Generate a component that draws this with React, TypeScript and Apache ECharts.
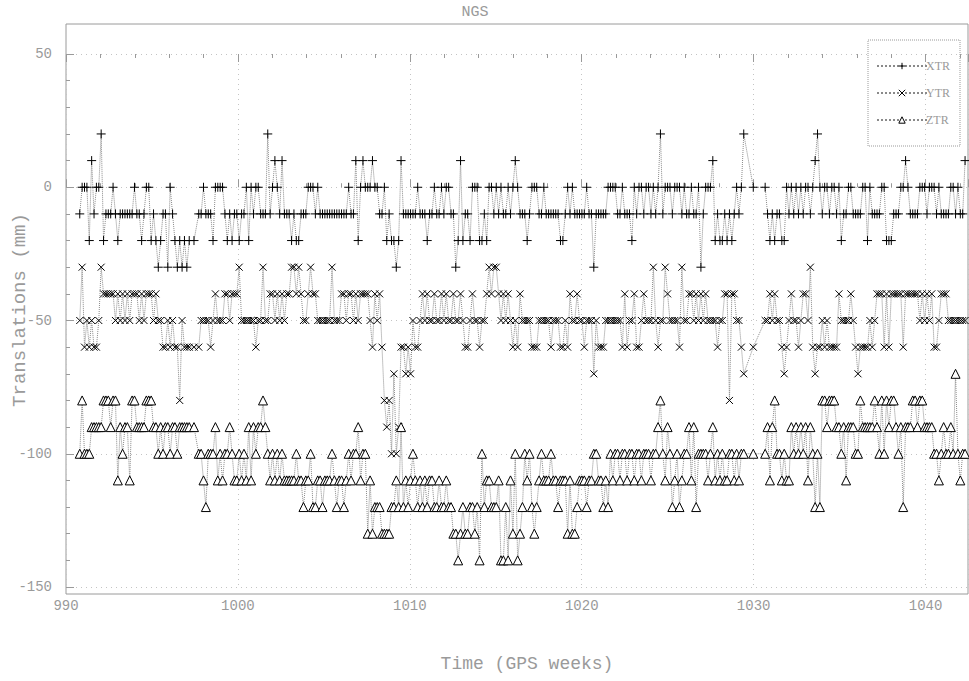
import React, { useEffect, useRef } from "react";
import * as echarts from "echarts";

// Sampling epochs (GPS weeks): first and last solution, evenly spaced
const firstEpoch = 990.8;
const lastEpoch = 1042.3;

// X translation (mm), one row per GPS week (null = no solution)
const xtr: (number | null)[] = [
  -10, 0,
  0, 0, -20, 10, -10, 0, 0,
  20, -20, -10, -10, -10, 0, -10,
  -20, -10, -10, -10, -10, -10, -10,
  0, -10, -10, -20, -10, 0, 0,
  -20, -10, -20, -30, -20, -10, -10,
  -30, 0, -10, -20, -30, -20, -30,
  -20, -30, -20, null, -20, null, -10,
  -10, 0, -10, -10, -10, -20, 0,
  0, 0, 0, -10, -20, -10, -20,
  -10, -10, -20, -10, -10, 0, -20,
  0, -10, 0, 0, -10, -10, -10,
  20, -10, 0, 10, 0, -10, 10,
  -10, -10, -10, -20, -10, -20, -20,
  -10, -10, -10, 0, 0, 0, -10,
  0, -10, -10, -10, -10, -10, -10,
  -10, -10, -10, -10, -10, -10, 0,
  -10, -10, 10, -20, 0, 10, 0,
  0, 0, 10, 0, 0, -10, -10,
  0, -20, -10, -20, -20, -30, -20,
  10, -10, -10, -10, -10, -10, -10,
  0, -10, -10, -10, -20, -10, -10,
  0, -10, -10, 0, -10, 0, 0,
  -10, -10, -30, -20, 10, -20, -10,
  -10, -20, 0, 0, 0, -20, -20,
  -10, -20, 0, 0, -10, 0, -10,
  0, -10, -10, 0, -10, 0, 10,
  0, -10, -10, -10, -20, -10, 0,
  0, 0, -10, -10, 0, -10, -10,
  -10, -10, -10, -10, -20, -20, -10,
  0, -10, 0, -10, -10, -10, -10,
  -10, 0, -10, -10, -30, -10, -10,
  -10, -10, -10, 0, 0, 0, 0,
  -10, -10, 0, -10, -10, -10, -20,
  0, -10, 0, 0, -10, 0, 0,
  -10, 0, -10, 0, 20, -10, 0,
  0, 0, -10, 0, 0, 0, -10,
  0, -10, -10, 0, -10, -10, 0,
  -30, -10, 0, 0, 0, 10, -20,
  -10, -20, -20, -10, -20, -10, -20,
  -10, 0, -10, 0, 20, null, null,
  null, 0, null, null, null, null, 0,
  -10, -20, -10, -20, -10, -10, -20,
  -20, 0, -10, 0, -10, 0, -10,
  0, -10, 0, 0, -10, 0, 10,
  20, 0, -10, 0, 0, -10, 0,
  0, -10, 0, -20, -10, -10, 0,
  0, -10, -10, -10, -10, 0, 0,
  -20, 0, -10, -10, -10, -10, 0,
  0, -20, -20, -20, -10, -10, -10,
  0, 0, 10, 0, -10, -10, -10,
  -10, 0, 0, 0, -10, 0, 0,
  0, -10, 0, -10, -10, -10, -10,
  0, 0, -10, 0, -10, -10, 10,
];

// Y translation (mm)
const ytr: (number | null)[] = [
  -50, -30,
  -60, -50, -60, -50, -60, -60, -50,
  -30, -40, -40, -40, -40, -40, -50,
  -40, -50, -40, -50, -40, -50, -40,
  -40, -40, -50, -40, -50, -40, -40,
  -40, -50, -40, -50, -50, -60, -60,
  -50, -60, -50, -60, -60, -80, -50,
  -60, -60, -60, null, -60, null, -60,
  -50, -50, -50, -50, -60, -50, -40,
  -50, -50, -50, -40, -40, -50, -40,
  -40, -40, -30, -50, -50, -50, -50,
  -50, -50, -60, -50, -50, -30, -50,
  -50, -40, -40, -50, -40, -50, -40,
  -50, -40, -40, -30, -30, -40, -30,
  -40, -50, -50, -40, -30, -40, -40,
  -50, -50, -50, -50, -50, -50, -30,
  -50, -50, -50, -40, -40, -50, -40,
  -40, -50, -40, -50, -40, -40, -40,
  -40, -50, -60, -40, -50, -40, -60,
  -80, -90, -80, -100, -70, -100, -90,
  -60, -60, -70, -60, -70, -50, -60,
  -60, -50, -40, -50, -40, -50, -50,
  -40, -50, -50, -40, -50, -40, -50,
  -50, -40, -50, -50, -40, -50, -60,
  -60, -50, -40, -50, -50, -60, -50,
  -50, -40, -30, -40, -30, -30, -40,
  -50, -40, -50, -40, -50, -60, -50,
  -60, -40, -50, -50, -50, -50, -60,
  -60, -60, -50, -50, -50, -50, -50,
  -60, -50, -50, -50, -60, -60, -50,
  -60, -40, -50, -50, -40, -50, -50,
  -60, -50, -50, -50, -70, -50, -60,
  -60, -60, -50, -50, -50, -50, -50,
  -50, -50, -60, -40, -60, -50, -50,
  -40, -60, -60, -50, -40, -50, -50,
  -50, -30, -50, -60, -50, -50, -30,
  -40, -50, -50, -50, -50, -60, -30,
  -50, -50, -40, -40, -50, -40, -50,
  -40, -50, -40, -50, -50, -50, -50,
  -60, -50, -50, -40, -40, -80, -40,
  -40, -50, -50, -60, -70, null, null,
  null, -60, null, null, null, null, -50,
  -50, -40, -50, -40, -50, -50, -60,
  -70, -60, -50, -40, -50, -50, -60,
  -50, -40, -40, -50, -30, -60, -70,
  -60, -60, -50, -60, -50, -60, -60,
  -60, -60, -40, -50, -50, -50, -50,
  -40, -50, -60, -70, -60, -60, -60,
  -60, -50, -60, -50, -40, -40, -40,
  -60, -40, -60, -40, -40, -40, -40,
  -40, -60, -40, -40, -40, -40, -40,
  -40, -50, -40, -50, -40, -50, -40,
  -60, -60, -50, -40, -40, -40, -50,
  -50, -50, -50, -50, -50, -50, -50,
];

// Z translation (mm)
const ztr: (number | null)[] = [
  -100, -80,
  -100, -100, -100, -90, -90, -90, -90,
  -90, -80, -80, -80, -90, -80, -80,
  -110, -90, -100, -90, -90, -110, -80,
  -80, -90, -90, -90, -90, -80, -80,
  -80, -90, -90, -100, -90, -100, -90,
  -90, -100, -90, -90, -100, -90, -90,
  -90, -90, -90, null, -90, null, -100,
  -100, -110, -120, -100, -100, -100, -90,
  -110, -100, -110, -100, -100, -90, -100,
  -110, -110, -100, -110, -100, -110, -90,
  -110, -90, -100, -90, -90, -80, -90,
  -100, -110, -100, -110, -100, -110, -100,
  -110, -110, -110, -110, -110, -100, -110,
  -110, -120, -110, -110, -100, -120, -120,
  -110, -110, -120, -110, -110, -110, -100,
  -110, -120, -110, -110, -120, -110, -100,
  -110, -100, -100, -90, -110, -100, -100,
  -130, -110, -130, -120, -120, -120, -130,
  -130, -130, -130, -120, -120, -110, -120,
  -90, -120, -110, -120, -110, -100, -110,
  -120, -110, -120, -110, -120, -110, -110,
  -120, -120, -110, -120, -120, -110, -120,
  -120, -130, -130, -140, -130, -120, -130,
  -130, -120, -120, -130, -120, -140, -100,
  -120, -110, -110, -120, -120, -120, -110,
  -140, -140, -120, -140, -110, -130, -100,
  -140, -130, -120, -100, -110, -100, -120,
  -130, -120, -110, -100, -110, -110, -110,
  -100, -110, -110, -120, -110, -110, -110,
  -130, -110, -130, -130, -120, -110, -110,
  -110, -120, -110, -110, -100, -100, -110,
  -110, -120, -110, -120, -100, -110, -100,
  -100, -110, -100, -100, -110, -100, -100,
  -110, -100, -100, -110, -100, -100, -100,
  -110, -100, -100, -90, -80, -100, -110,
  -90, -100, -120, -110, -100, -120, -110,
  -100, -100, -90, -110, -90, -120, -100,
  -100, -100, -100, -110, -100, -90, -110,
  -100, -110, -100, -110, -110, -100, -100,
  -110, -100, -110, -100, -100, null, null,
  null, -100, null, null, null, null, -100,
  -90, -110, -90, -80, -100, -100, -110,
  -100, -110, -110, -90, -100, -90, -100,
  -90, -100, -90, -110, -90, -100, -120,
  -100, -120, -80, -80, -90, -80, -80,
  -80, -90, -90, -100, -90, -110, -90,
  -90, -90, -100, -100, -80, -90, -90,
  -90, -90, -90, -80, -90, -100, -80,
  -100, -80, -90, -80, -80, -90, -100,
  -90, -120, -90, -90, -90, -80, -80,
  -90, -80, -80, -90, -90, -90, -90,
  -100, -100, -110, -100, -90, -100, -100,
  -90, -100, -70, -100, -110, -100, -100,
];

const seriesNames = ["XTR", "YTR", "ZTR"];
const xTicks = [990, 1000, 1010, 1020, 1030, 1040];
const yTicks = [-150, -100, -50, 0, 50];
const yAxisTitle = "Translations (mm)";

const GRAY = "#9a9a9a";
const FONT = "Liberation Mono";

function toPoints(vals: (number | null)[]) {
  const n = vals.length;
  const step = (lastEpoch - firstEpoch) / (n - 1);
  const out: [number, number][] = [];
  vals.forEach((v, i) => {
    if (v !== null) out.push([firstEpoch + i * step, v]);
  });
  return out;
}

const PLUS = "path://M0,5L10,5M5,0L5,10";
const CROSS = "path://M0,0L10,10M10,0L0,10";

export default function App() {
  const ref = useRef<HTMLDivElement>(null);
  useEffect(() => {
    const chart = echarts.init(ref.current!, null, { renderer: "svg" });
    const lineStyle = { color: "#8a8a8a", width: 1, type: "dotted" as const };
    const xMin = xTicks[0];
    const xMax = 1042.47;
    const yMin = yTicks[0];
    const yMax = yTicks[yTicks.length - 1];
    const tickStyle = { color: GRAY };
    const option: any = {
      animation: false,
      backgroundColor: "#fff",
      title: {
        text: "NGS",
        left: 470,
        top: 0,
        textAlign: "center",
        textStyle: { color: GRAY, fontFamily: FONT, fontSize: 15, fontWeight: "normal" },
      },
      grid: {
        left: 66,
        right: 1,
        top: 54,
        height: 533,
        containLabel: false,
        outerBoundsMode: "none",
      },
      legend: {
        orient: "vertical",
        left: 868,
        top: 40,
        padding: [20, 10, 20, 8],
        itemGap: 15,
        itemWidth: 50,
        itemHeight: 8,
        borderColor: GRAY,
        borderWidth: 1,
        borderType: "dotted",
        itemStyle: { borderWidth: 1 },
        textStyle: { color: GRAY, fontFamily: "Liberation Serif", fontSize: 12, padding: [0, 0, 0, -6] },
        data: seriesNames,
      },
      xAxis: [
        {
          type: "value",
          min: xMin,
          max: xMax,
          interval: 10,
          name: "Time (GPS weeks)",
          nameLocation: "middle",
          nameGap: 68,
          nameTextStyle: { color: GRAY, fontFamily: FONT, fontSize: 18, padding: [0, 0, 0, 20] },
          axisLine: { show: false },
          axisTick: { show: true, inside: true, length: 8, lineStyle: tickStyle },
          minorTick: { show: true, splitNumber: 5, length: 4, lineStyle: tickStyle },
          axisLabel: {
            color: GRAY,
            fontFamily: FONT,
            fontSize: 14,
            margin: 12,
            showMaxLabel: false,
            formatter: (v: number) => String(v),
          },
          splitLine: { show: true, lineStyle: { color: "#c4c4c4", type: [1, 4] } },
        },
        {
          type: "value",
          position: "top",
          min: xMin,
          max: xMax,
          interval: 10,
          axisLine: { show: false },
          axisTick: { show: true, inside: true, length: 8, lineStyle: tickStyle },
          minorTick: { show: true, splitNumber: 5, length: 4, lineStyle: tickStyle },
          axisLabel: { show: false },
          splitLine: { show: false },
        },
      ],
      yAxis: [
        {
          type: "value",
          min: yMin,
          max: yMax,
          interval: 50,
          axisLine: { show: false },
          axisTick: { show: true, inside: true, length: 8, lineStyle: tickStyle },
          minorTick: { show: true, splitNumber: 5, length: 4, lineStyle: tickStyle },
          axisLabel: {
            color: GRAY,
            fontFamily: FONT,
            fontSize: 14,
            margin: 14,
            formatter: (v: number) => String(v),
          },
          splitLine: { show: true, lineStyle: { color: "#c4c4c4", type: [1, 4] } },
        },
      ],
      graphic: [
        {
          type: "rect",
          shape: { x: 66, y: 24, width: 902, height: 570 },
          style: { fill: "none", stroke: GRAY, lineWidth: 1 },
          silent: true,
        },
        {
          type: "text",
          x: 20,
          y: 310,
          rotation: Math.PI / 2,
          silent: true,
          style: {
            text: yAxisTitle,
            fill: GRAY,
            font: `19px "${FONT}"`,
            align: "center",
            verticalAlign: "middle",
          },
        },
      ],
      series: [
        {
          name: "XTR",
          type: "line",
          data: toPoints(xtr),
          symbol: PLUS,
          symbolSize: 9,
          showAllSymbol: true,
          lineStyle,
          itemStyle: { color: "#000", borderColor: "#000", borderWidth: 1 },
          emphasis: { disabled: true },
        },
        {
          name: "YTR",
          type: "line",
          data: toPoints(ytr),
          symbol: CROSS,
          symbolSize: 7,
          showAllSymbol: true,
          lineStyle,
          itemStyle: { color: "#000", borderColor: "#000", borderWidth: 1 },
          emphasis: { disabled: true },
        },
        {
          name: "ZTR",
          type: "line",
          data: toPoints(ztr),
          symbol: "triangle",
          symbolSize: 9,
          showAllSymbol: true,
          lineStyle,
          itemStyle: { color: "#fff", borderColor: "#000", borderWidth: 1 },
          emphasis: { disabled: true },
        },
      ],
    };
    chart.setOption(option);
    return () => chart.dispose();
  }, []);
  return (
    <div
      ref={ref}
      style={{ position: "absolute", left: 0, top: 0, width: 969, height: 681 }}
    />
  );
}
